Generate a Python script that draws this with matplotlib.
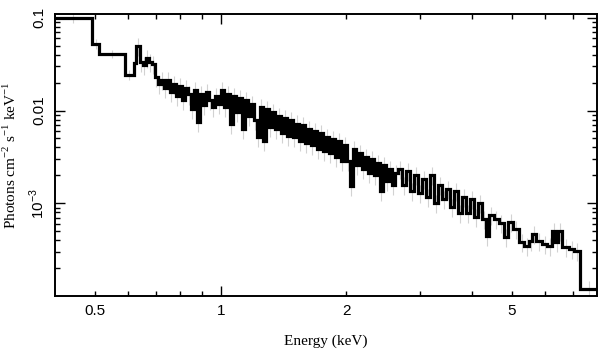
#X-ray spectrum (unfolded) drawn as a step line with grey error bars
import matplotlib
matplotlib.use('Agg')
import matplotlib.pyplot as plt
import numpy as np
from matplotlib.ticker import FixedLocator, FixedFormatter, NullFormatter

#bin edges in keV
BinEdges = [0.40, 0.49, 0.511, 0.589, 0.6185, 0.6272, 0.6394, 0.6501, 0.6610, 0.6720,
            0.6833, 0.6945, 0.7062, 0.7180, 0.7300, 0.7422, 0.7546, 0.7672, 0.7800, 0.7930,
            0.8062, 0.8197, 0.8334, 0.8473, 0.8614, 0.8757, 0.8904, 0.9053, 0.9204, 0.9359,
            0.9515, 0.9674, 0.9836, 1.0000, 1.0167, 1.0337, 1.0510, 1.0685, 1.0864, 1.1046,
            1.1230, 1.1418, 1.1609, 1.1803, 1.2000, 1.2200, 1.2404, 1.2611, 1.2822, 1.3036,
            1.3254, 1.3475, 1.3700, 1.3929, 1.4162, 1.4398, 1.4639, 1.4884, 1.5132, 1.5385,
            1.5642, 1.5902, 1.6168, 1.6437, 1.6711, 1.6990, 1.7274, 1.7561, 1.7855, 1.8155,
            1.8458, 1.8767, 1.9079, 1.9398, 1.9721, 2.0052, 2.0386, 2.0728, 2.1074, 2.1426,
            2.1784, 2.2146, 2.2516, 2.2892, 2.3274, 2.3664, 2.4058, 2.4460, 2.4868, 2.5287,
            2.5709, 2.6139, 2.6573, 2.7166, 2.7774, 2.8395, 2.9028, 2.9676, 3.0339, 3.1020,
            3.1711, 3.2419, 3.3141, 3.3884, 3.4640, 3.5414, 3.6205, 3.7018, 3.7843, 3.8681,
            3.9545, 4.0432, 4.1336, 4.2256, 4.3200, 4.3920, 4.5152, 4.6416, 4.7720, 4.9048,
            5.0425, 5.2125, 5.3580, 5.5080, 5.6000, 5.7255, 5.9180, 6.0840, 6.2535, 6.3588,
            6.4648, 6.6093, 6.8693, 7.0611, 7.2996, 8.0]

#photons cm^-2 s^-1 keV^-1, one value per bin
Flux = [0.100, 0.0525, 0.0410, 0.0244,
        #0.62 - 1 keV
        0.0328, 0.0500, 0.0336, 0.0312, 0.0372, 0.0336, 0.0320, 0.0232, 0.0195, 0.0215,
        0.0177, 0.0215, 0.0160, 0.0195, 0.0145, 0.0186, 0.0131, 0.0177, 0.0149, 0.0103,
        0.0168, 0.00762, 0.0149, 0.0116, 0.0160, 0.0131, 0.0108, 0.0145, 0.0119,
        #1 - 2 keV
        0.0168, 0.0108, 0.0152, 0.00725, 0.0145, 0.00975, 0.0138, 0.00625, 0.0131, 0.00883,
        0.0119, 0.00800, 0.00513, 0.0108, 0.00464, 0.0103, 0.00657, 0.00975, 0.00625, 0.00883,
        0.00566, 0.00841, 0.00538, 0.00800, 0.00513, 0.00725, 0.00464, 0.00690, 0.00442, 0.00625,
        0.00421, 0.00595, 0.00381, 0.00566, 0.00362, 0.00513, 0.00345, 0.00488, 0.00312, 0.00464,
        0.00283, 0.00421,
        #2 - 2.66 keV
        0.00283, 0.00152, 0.00381, 0.00256, 0.00345, 0.00232, 0.00312, 0.00210, 0.00297, 0.00200,
        0.00269, 0.00135, 0.00256, 0.00172, 0.00232, 0.00156, 0.00210,
        #2.66 - 4.32 keV
        0.00232, 0.00156, 0.00221, 0.00135, 0.00200, 0.00128, 0.00181, 0.00116, 0.00200, 0.00100,
        0.00156, 0.00110, 0.00141, 0.000906, 0.00135, 0.000781, 0.00116, 0.000781, 0.00110,
        0.000707, 0.00100, 0.000673,
        #4.32 - 8 keV
        0.000442, 0.000743, 0.000673, 0.000609, 0.000431, 0.000625, 0.000525, 0.000381, 0.000345,
        0.000390, 0.000464, 0.000390, 0.000362, 0.000345, 0.000500, 0.000381, 0.000500, 0.000336,
        0.000320, 0.000305, 0.000119]

#relative error of each bin (grey bars)
RelErr = [0.12, 0.12, 0.10, 0.12] + [0.22] * (len(Flux) - 4)

XMajor = [1]
XMinor = [0.5, 0.6, 0.7, 0.8, 0.9, 2, 3, 4, 5, 6, 7]
XMinorLabels = ['0.5', '', '', '', '', '2', '', '', '5', '', '']
YMajor = [1e-3, 1e-2, 1e-1]
YMajorLabels = [r'10$^{\mathregular{-3}}$', '0.01', '0.1']


def DrawSpectrum():
    plt.rcParams['font.family'] = ['Liberation Sans', 'DejaVu Sans']
    plt.rcParams['font.size'] = 11
    fig = plt.figure(figsize=(6.09, 3.58), dpi=100)
    ax = fig.add_axes([0.0903, 0.1732, 0.8900, 0.7877])

    edges = np.array(BinEdges)
    flux = np.array(Flux)
    centers = np.sqrt(edges[:-1] * edges[1:])
    err = flux * np.array(RelErr)
    ax.errorbar(centers, flux, yerr=err, fmt='none', ecolor='#d2d2d2',
                elinewidth=0.8, zorder=1)
    ax.stairs(flux, edges, baseline=None, color='black', linewidth=2.3, zorder=2)

    ax.set_xscale('log')
    ax.set_yscale('log')
    ax.set_xlim(0.4, 8.0)
    ax.set_ylim(1.0e-4, 0.11)

    ax.xaxis.set_major_locator(FixedLocator(XMajor))
    ax.xaxis.set_major_formatter(FixedFormatter(['1']))
    ax.xaxis.set_minor_locator(FixedLocator(XMinor))
    ax.xaxis.set_minor_formatter(FixedFormatter(XMinorLabels))
    ax.yaxis.set_major_locator(FixedLocator(YMajor))
    ax.yaxis.set_major_formatter(FixedFormatter(YMajorLabels))
    ax.yaxis.set_minor_locator(matplotlib.ticker.LogLocator(base=10, subs=np.arange(2, 10), numticks=20))
    ax.yaxis.set_minor_formatter(NullFormatter())

    ax.tick_params(which='both', direction='in', top=True, right=True, width=1.0, labelsize=11)
    ax.tick_params(which='major', length=7, pad=6)
    ax.tick_params(which='minor', length=3.5, pad=6)
    for lab in ax.get_yticklabels():
        lab.set_rotation(90)
        lab.set_va('center')
    for sp in ax.spines.values():
        sp.set_linewidth(1.4)

    ax.set_xlabel('Energy (keV)', family=['Liberation Serif', 'DejaVu Serif'], fontsize=11, labelpad=12)
    ax.set_ylabel(r'Photons cm$^{\mathregular{-2}}$ s$^{\mathregular{-1}}$ keV$^{\mathregular{-1}}$',
                  family=['Liberation Serif', 'DejaVu Serif'], fontsize=11, labelpad=6)
    fig.savefig('out.png', dpi=100)


if __name__ == "__main__":
    DrawSpectrum()
